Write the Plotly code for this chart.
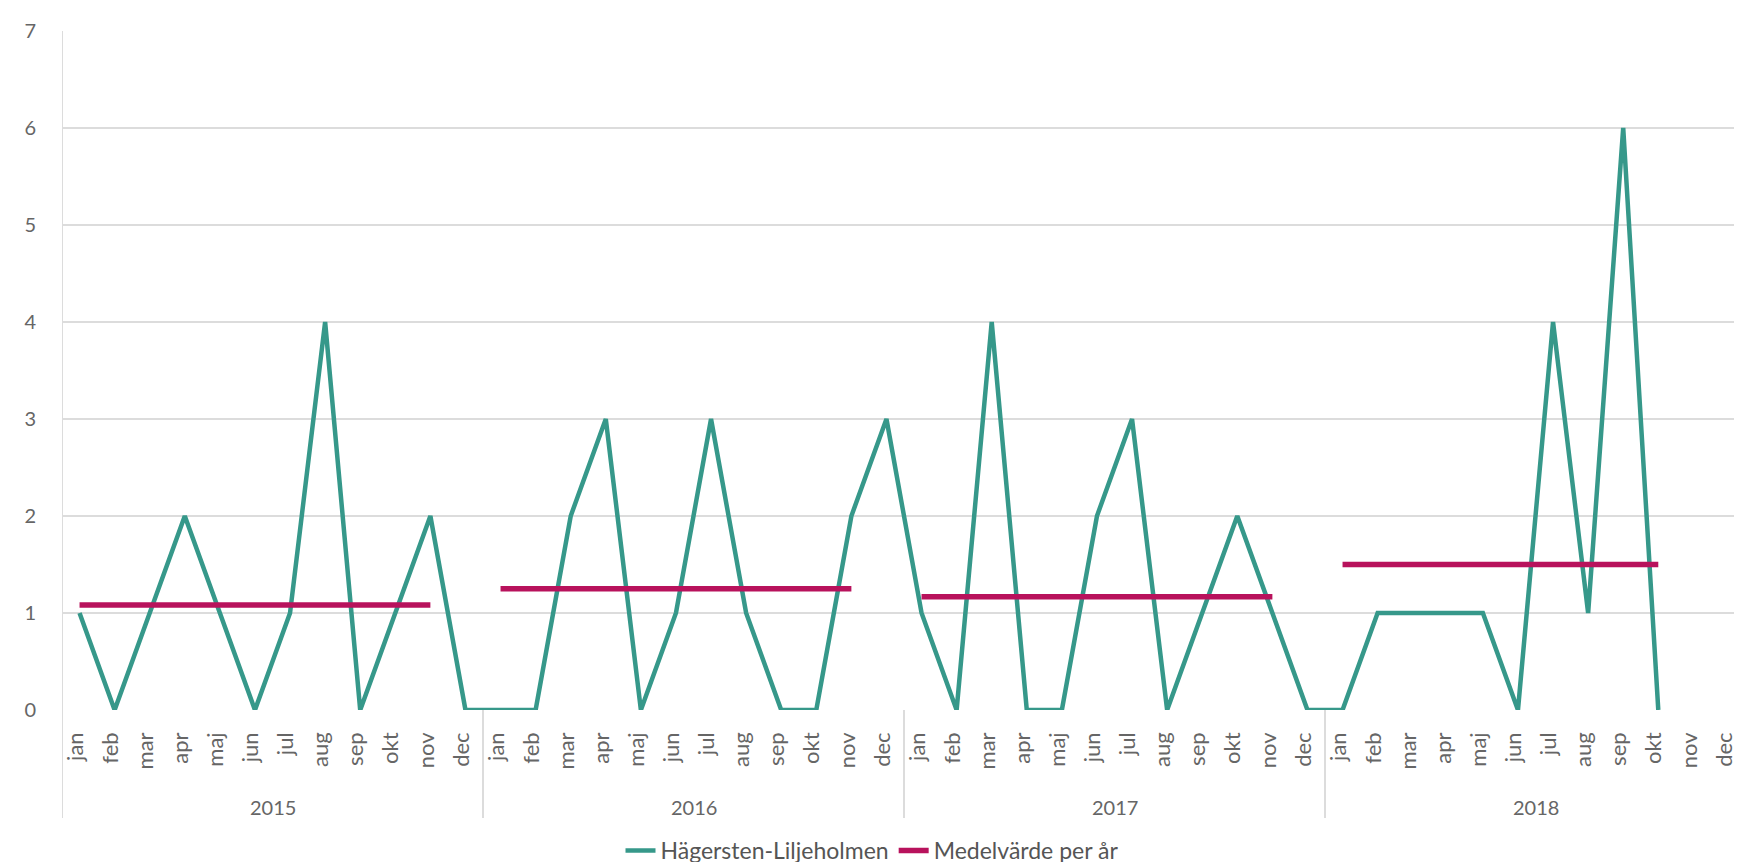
import plotly.graph_objects as go

years = ["2015", "2016", "2017", "2018"]
months = ["jan", "feb", "mar", "apr", "maj", "jun", "jul", "aug", "sep", "okt", "nov", "dec"]

values_2015 = [1, 0, 1, 2, 1, 0, 1, 4, 0, 1, 2, 0]
values_2016 = [0, 0, 2, 3, 0, 1, 3, 1, 0, 0, 2, 3]
values_2017 = [1, 0, 4, 0, 0, 2, 3, 0, 1, 2, 1, 0]
values_2018 = [0, 1, 1, 1, 1, 0, 4, 1, 6, 0, None, None]

mean_2015 = [13 / 12] * 11 + [None]
mean_2016 = [15 / 12] * 11 + [None]
mean_2017 = [14 / 12] * 11 + [None]
mean_2018 = [15 / 10] * 10 + [None, None]

series_name = "Hägersten-Liljeholmen"
mean_name = "Medelvärde per år"

all_values = values_2015 + values_2016 + values_2017 + values_2018
xs = list(range(48))
mean_x = []
mean_y = []
for yi, m in enumerate((mean_2015, mean_2016, mean_2017, mean_2018)):
    for mi, v in enumerate(m):
        mean_x.append(yi * 12 + mi)
        mean_y.append(v)
    mean_x.append(yi * 12 + 11.5)
    mean_y.append(None)

tick_text = months * len(years)

TEAL = "#36988a"
PINK = "#b8125c"
GRID = "#dcdcdc"
FONT = "Lato"
TXT = "#666666"

fig = go.Figure()
fig.add_trace(go.Scatter(x=xs, y=all_values, mode="lines", name=series_name,
                         line=dict(color=TEAL, width=4.5), connectgaps=False))
fig.add_trace(go.Scatter(x=mean_x, y=mean_y, mode="lines", name=mean_name,
                         line=dict(color=PINK, width=5.5), connectgaps=False))

fig.update_xaxes(range=[-0.5, 47.5], tickmode="array", tickvals=xs, ticktext=tick_text,
                 tickangle=-90, showgrid=False, zeroline=False, showline=False,
                 tickfont=dict(family=FONT, size=22, color=TXT), ticks="",
                 ticklabelstandoff=17, ticklabelshift=-4, ticklabeloverflow="allow")
fig.update_yaxes(range=[0, 7], dtick=1, showgrid=True, gridcolor=GRID, gridwidth=1.5,
                 zeroline=False, showline=False, ticks="",
                 tickfont=dict(family=FONT, size=20, color=TXT), ticklabelstandoff=25)

# left border through the plot and the label area
fig.add_shape(type="line", xref="x", yref="paper", x0=-0.5, x1=-0.5, y0=-0.159, y1=1,
              line=dict(color=GRID, width=2), layer="below")
# year dividers, only in the label area
for xv in [11.5, 23.5, 35.5]:
    fig.add_shape(type="line", xref="x", yref="paper", x0=xv, x1=xv, y0=-0.159, y1=0,
                  line=dict(color=GRID, width=2), layer="below")

for i, yr in enumerate(years):
    fig.add_annotation(x=i * 12 + 5.5, xref="x", y=-0.143, yref="paper", text=yr,
                       showarrow=False, font=dict(family=FONT, size=20, color=TXT),
                       yanchor="middle")

fig.update_layout(
    width=1742, height=862,
    margin=dict(l=54, r=4, t=23, b=160, autoexpand=False),
    plot_bgcolor="white", paper_bgcolor="white",
    showlegend=True,
    legend=dict(orientation="h", x=0.481, xanchor="center",
                y=-0.207, yanchor="middle", tracegroupgap=0,
                font=dict(family=FONT, size=23, color="#555555")),
)

fig.write_html("out.html")
